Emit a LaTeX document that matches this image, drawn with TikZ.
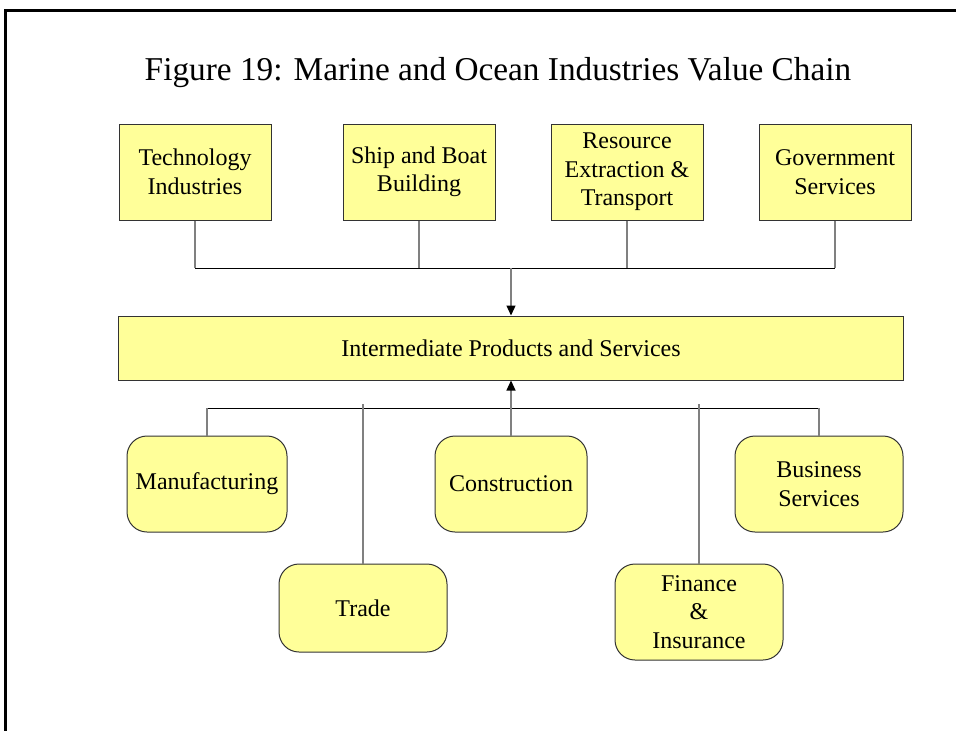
\documentclass[tikz,border=0pt]{standalone}
\usepackage{fontspec}
\setmainfont{Liberation Serif}
\usepackage{xcolor}
\usetikzlibrary{arrows.meta}
\definecolor{boxfill}{RGB}{255,255,153}

\begin{document}
\begin{tikzpicture}[x=1pt, y=-1pt,
    every node/.style = {font=\fontsize{24}{28.5}\selectfont},
    sector/.style = {draw=black!80, line width=1pt, fill=boxfill, align=center,
      minimum width=152pt, minimum height=96pt, inner sep=2pt},
    firm/.style = {sector, rounded corners=20pt, minimum width=168pt},
    drop/.style = {draw=gray, line width=1.2pt},
    rail/.style = {draw=black, line width=1pt},
    tip/.style = {-{Triangle[length=10pt, width=9pt, color=black]}}]
    \useasboundingbox (0,0) rectangle (956,731);
    \draw[line width=3pt] (5,731) -- (5,10) -- (956,10);

    \node[anchor=base, font=\fontsize{33.3}{40}\selectfont] (title) at (498,80)
      {Figure 19: Marine and Ocean Industries Value Chain};

    % supplying sectors
    \node[sector] (tech) at (195,172) {Technology\\Industries};
    \node[sector] (ship) at (419,172) {Ship and Boat\\Building};
    \node[sector] (res) at (627,172) {Resource\\Extraction \&\\Transport};
    \node[sector] (gov) at (835,172) {Government\\Services};

    \node[sector, minimum width=785pt, minimum height=64pt] (inter) at (511,348)
      {Intermediate Products and Services};

    % using sectors
    \node[firm, minimum width=160pt] (manu) at (207,484) {Manufacturing};
    \node[firm, minimum height=88pt] (trade) at (363,608) {Trade};
    \node[firm, minimum width=152pt] (cons) at (511,484) {Construction};
    \node[firm] (fin) at (699,612) {Finance\\\&\\Insurance};
    \node[firm] (busi) at (819,484) {Business\\Services};

    \coordinate (topbus) at (0,268);
    \coordinate (lowbus) at (0,408);

    \draw[rail] (tech.south |- topbus) -- (gov.south |- topbus);
    \foreach \n in {tech,ship,res,gov}
      \draw[drop] (\n.south) -- (\n.south |- topbus);
    \draw[drop, tip] (inter.north |- topbus) -- (inter.north);

    \draw[rail] (manu.north |- lowbus) -- (busi.north |- lowbus);
    \foreach \n in {manu,busi}
      \draw[drop] (\n.north) -- (\n.north |- lowbus);
    \foreach \n in {trade,fin}
      \draw[drop] (\n.north) -- ([yshift=4pt]\n.north |- lowbus);
    \draw[drop, tip] (cons.north) -- (inter.south);
\end{tikzpicture}
\end{document}
